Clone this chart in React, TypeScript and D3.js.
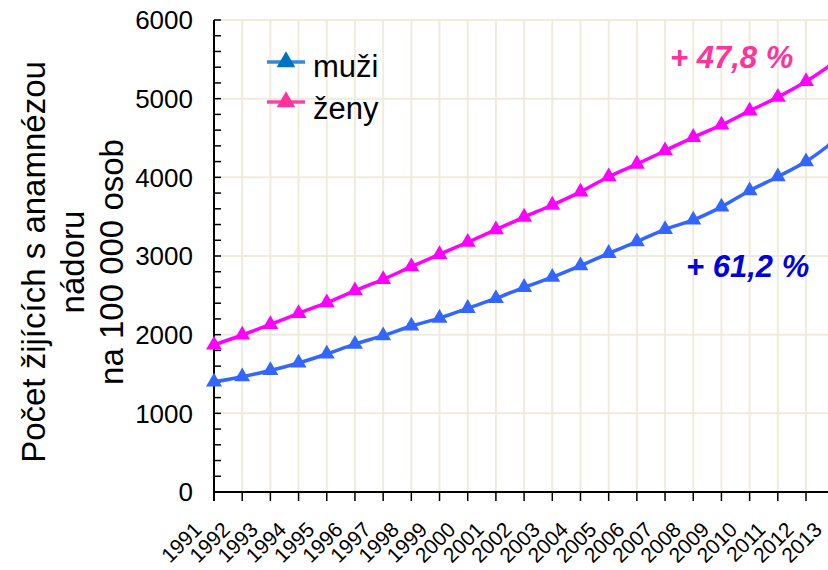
import React from "react";
import * as d3 from "d3";

const years = ["1991","1992","1993","1994","1995","1996","1997","1998","1999","2000","2001","2002","2003","2004","2005","2006","2007","2008","2009","2010","2011","2012","2013"];
const men = [1400,1466,1545,1640,1754,1880,1987,2110,2210,2335,2460,2602,2730,2877,3034,3182,3339,3458,3625,3830,4008,4200,4460];
const women = [1870,1996,2130,2271,2406,2559,2703,2864,3021,3175,3335,3495,3648,3815,4008,4169,4338,4509,4665,4845,5020,5218,5460];
const yTicks = [0,1000,2000,3000,4000,5000,6000];
const yMinor = d3.range(0, 6001, 200);
const seriesNames = ["muži", "ženy"];
const titleLines = ["Počet žijících s anamnézou", "nádoru", "na 100 000 osob"];
const notes = ["+ 47,8 %", "+ 61,2 %"];

const W = 828, H = 570;
const FONT = "'Liberation Sans', Arial, sans-serif";

export default function App() {
  const x = d3.scalePoint<string>().domain(years).range([214, 834.2]);
  const y = d3.scaleLinear().domain([0, 6000]).range([492, 20]);
  const line = d3.line<number>().x((_, i) => x(years[i])!).y(d => y(d)).curve(d3.curveMonotoneX);
  const tri = d3.symbol().type(d3.symbolTriangle).size(110)()!;
  const triL = d3.symbol().type(d3.symbolTriangle).size(150)()!;
  const series = [
    { vals: women, color: "#FF00FF" },
    { vals: men, color: "#3366FF" },
  ];
  return (
    <svg width={W} height={H} style={{ position: "absolute", left: 0, top: 0, background: "#fff" }} fontFamily={FONT}>
      {years.slice(1).map(yr => (
        <line key={"gx" + yr} x1={x(yr)} x2={x(yr)} y1={y(6000)} y2={y(0)} stroke="#EFEBDD" strokeWidth={2} />
      ))}
      {yTicks.slice(1).map(t => (
        <line key={"gy" + t} x1={214} x2={W} y1={y(t)} y2={y(t)} stroke="#EFEBDD" strokeWidth={2} />
      ))}
      <line x1={214} x2={214} y1={y(6000)} y2={501} stroke="#000" strokeWidth={2} />
      <line x1={213} x2={W} y1={y(0)} y2={y(0)} stroke="#000" strokeWidth={2} />
      {yMinor.map(t => (
        <line key={"ym" + t} x1={214} x2={221} y1={y(t)} y2={y(t)} stroke="#000" strokeWidth={1.5} />
      ))}
      {years.map(yr => (
        <line key={"xt" + yr} x1={x(yr)} x2={x(yr)} y1={y(0)} y2={501} stroke="#000" strokeWidth={1.5} />
      ))}
      {yTicks.map(t => (
        <text key={"yl" + t} x={193} y={y(t)} dy="0.36em" textAnchor="end" fontSize={26} fill="#000">{t}</text>
      ))}
      {years.map(yr => (
        <text key={"xl" + yr} transform={`translate(${x(yr)! - 11},531) rotate(-45)`} textAnchor="end" fontSize={21} fill="#000">{yr}</text>
      ))}
      <g transform="translate(0,262) rotate(-90)" fontSize={33} fill="#000" textAnchor="middle">
        {titleLines.map((t, i) => (
          <text key={t} x={0} y={45 + i * 39}>{t}</text>
        ))}
      </g>
      {series.map((s, si) => (
        <g key={si}>
          <path d={line(s.vals)!} fill="none" stroke={s.color} strokeWidth={3.5} />
          {s.vals.map((v, i) => (
            <path key={i} d={tri} transform={`translate(${x(years[i])},${y(v)})`} fill={s.color} />
          ))}
        </g>
      ))}
      <line x1={267} x2={305} y1={62} y2={62} stroke="#2E8BE0" strokeWidth={3.5} />
      <path d={triL} transform="translate(286,62)" fill="#0070C0" />
      <text x={313} y={77} fontSize={31} fill="#000">{seriesNames[0]}</text>
      <line x1={267} x2={305} y1={102} y2={102} stroke="#FF40A8" strokeWidth={3.5} />
      <path d={triL} transform="translate(286,102)" fill="#FF3399" />
      <text x={313} y={119} fontSize={31} fill="#000">{seriesNames[1]}</text>
      <text x={670} y={68} fontSize={31} fontWeight="bold" fontStyle="italic" fill="#FF3399">{notes[0]}</text>
      <text x={686} y={277} fontSize={31} fontWeight="bold" fontStyle="italic" fill="#0000DD">{notes[1]}</text>
    </svg>
  );
}
